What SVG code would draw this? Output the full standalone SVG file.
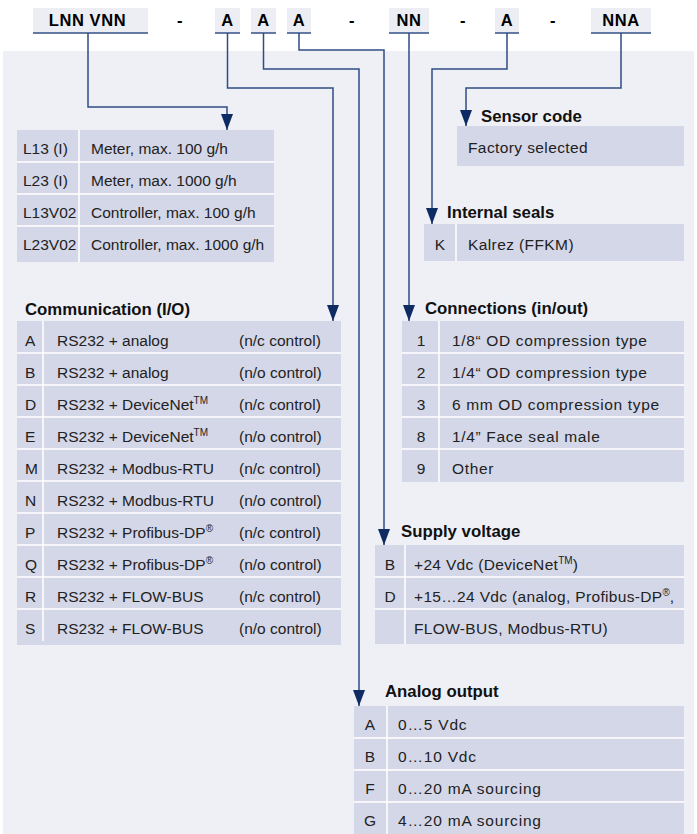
<svg xmlns="http://www.w3.org/2000/svg" width="697" height="834" viewBox="0 0 697 834">
<style>
.bg{fill:#eff0f6}
.hdr{fill:#eceef4}
.ul{stroke:#33508a;stroke-width:1.5;fill:none}
.lbl{font-family:"Liberation Sans",Arial,sans-serif;font-weight:bold;font-size:16.5px;letter-spacing:0.6px;fill:#000}
.h{font-family:"Liberation Sans",Arial,sans-serif;font-weight:bold;font-size:16.8px;fill:#111}
.t{font-family:"Liberation Sans",Arial,sans-serif;font-size:15.5px;fill:#222}
.tc{font-family:"Liberation Sans",Arial,sans-serif;font-size:15.5px;fill:#222;text-anchor:middle}
.w4{letter-spacing:0.4px}
.w3{letter-spacing:0.33px}
.w6{letter-spacing:0.65px}
.w8{letter-spacing:0.8px}
.tbl{fill:#d4d7e8}
.sep{stroke:#ffffff;stroke-width:1.5;fill:none}
.con{stroke:#2f4c85;stroke-width:1.5;fill:none;marker-end:url(#arr)}
.sup{font-size:10px;letter-spacing:0}
</style>
<defs>
<marker id="arr" markerUnits="userSpaceOnUse" markerWidth="16" markerHeight="12" viewBox="0 0 16 12" refX="16" refY="6" orient="auto">
<path d="M0,0 L16,6 L0,12 z" fill="#0f2b63"/>
</marker>
</defs>
<rect class="bg" x="3" y="51" width="691" height="783"/>

<g id="header">
<rect class="hdr" x="33" y="8" width="115" height="25"/><path class="ul" d="M33,33H148"/><text class="lbl" x="87.5" y="26" text-anchor="middle">LNN VNN</text>
<text class="lbl" x="180" y="26" text-anchor="middle">-</text>
<rect class="hdr" x="215" y="8" width="25" height="25"/><path class="ul" d="M215,33H240"/><text class="lbl" x="227.5" y="26" text-anchor="middle">A</text>
<rect class="hdr" x="251" y="8" width="25" height="25"/><path class="ul" d="M251,33H276"/><text class="lbl" x="263.5" y="26" text-anchor="middle">A</text>
<rect class="hdr" x="287" y="8" width="24" height="25"/><path class="ul" d="M287,33H311"/><text class="lbl" x="299" y="26" text-anchor="middle">A</text>
<text class="lbl" x="352" y="26" text-anchor="middle">-</text>
<rect class="hdr" x="389" y="8" width="40" height="25"/><path class="ul" d="M389,33H429"/><text class="lbl" x="409" y="26" text-anchor="middle">NN</text>
<text class="lbl" x="463" y="26" text-anchor="middle">-</text>
<rect class="hdr" x="495" y="8" width="24" height="25"/><path class="ul" d="M495,33H519"/><text class="lbl" x="507" y="26" text-anchor="middle">A</text>
<text class="lbl" x="553" y="26" text-anchor="middle">-</text>
<rect class="hdr" x="591" y="8" width="60" height="25"/><path class="ul" d="M591,33H651"/><text class="lbl" x="621" y="26" text-anchor="middle">NNA</text>
</g>

<g id="connectors">
<path class="con" d="M88,33V107H227V130"/>
<path class="con" d="M227.5,33V88H333V321"/>
<path class="con" d="M263.5,33V69H359V706"/>
<path class="con" d="M299,33V50H384V545"/>
<path class="con" d="M409,33V321"/>
<path class="con" d="M507,33V69H432V224"/>
<path class="con" d="M621,33V88H466V126"/>
</g>

<g id="model">
<rect class="tbl" x="17" y="130" width="257" height="132"/>
<path class="sep" d="M17,162H274M17,194H274M17,226H274M79,130V262"/>
<text class="t" x="23" y="154">L13 (I)</text><text class="t" x="91" y="154">Meter, max. 100 g/h</text>
<text class="t" x="23" y="186">L23 (I)</text><text class="t" x="91" y="186">Meter, max. 1000 g/h</text>
<text class="t" x="23" y="218">L13V02</text><text class="t" x="91" y="218">Controller, max. 100 g/h</text>
<text class="t" x="23" y="250">L23V02</text><text class="t" x="91" y="250">Controller, max. 1000 g/h</text>
</g>

<g id="sensor-code">
<text class="h" x="481" y="122">Sensor code</text>
<rect class="tbl" x="457" y="126" width="227" height="40"/>
<text class="t w4" x="468" y="153">Factory selected</text>
</g>

<g id="internal-seals">
<text class="h" x="447" y="218">Internal seals</text>
<rect class="tbl" x="424" y="224" width="260" height="37"/>
<path class="sep" d="M456,224V261"/>
<text class="tc" x="440" y="250">K</text><text class="t w4" x="468" y="250">Kalrez (FFKM)</text>
</g>

<g id="communication">
<text class="h" x="25" y="315">Communication (I/O)</text>
<rect class="tbl" x="17" y="321" width="324" height="324"/>
<path class="sep" d="M17,353H341M17,385H341M17,417H341M17,449H341M17,481H341M17,513H341M17,545H341M17,577H341M17,609H341M43,321V641"/>
<text class="t" x="25" y="346">A</text><text class="t" x="57" y="346">RS232 + analog</text><text class="t" x="239" y="346">(n/c control)</text>
<text class="t" x="25" y="378">B</text><text class="t" x="57" y="378">RS232 + analog</text><text class="t" x="239" y="378">(n/o control)</text>
<text class="t" x="25" y="410">D</text><text class="t" x="57" y="410">RS232 + DeviceNet<tspan class="sup" dy="-6">TM</tspan></text><text class="t" x="239" y="410">(n/c control)</text>
<text class="t" x="25" y="442">E</text><text class="t" x="57" y="442">RS232 + DeviceNet<tspan class="sup" dy="-6">TM</tspan></text><text class="t" x="239" y="442">(n/o control)</text>
<text class="t" x="25" y="474">M</text><text class="t" x="57" y="474">RS232 + Modbus-RTU</text><text class="t" x="239" y="474">(n/c control)</text>
<text class="t" x="25" y="506">N</text><text class="t" x="57" y="506">RS232 + Modbus-RTU</text><text class="t" x="239" y="506">(n/o control)</text>
<text class="t" x="25" y="538">P</text><text class="t" x="57" y="538">RS232 + Profibus-DP<tspan class="sup" dy="-6">®</tspan></text><text class="t" x="239" y="538">(n/c control)</text>
<text class="t" x="25" y="570">Q</text><text class="t" x="57" y="570">RS232 + Profibus-DP<tspan class="sup" dy="-6">®</tspan></text><text class="t" x="239" y="570">(n/o control)</text>
<text class="t" x="25" y="602">R</text><text class="t" x="57" y="602">RS232 + FLOW-BUS</text><text class="t" x="239" y="602">(n/c control)</text>
<text class="t" x="25" y="634">S</text><text class="t" x="57" y="634">RS232 + FLOW-BUS</text><text class="t" x="239" y="634">(n/o control)</text>
</g>

<g id="connections">
<text class="h" x="425" y="314">Connections (in/out)</text>
<rect class="tbl" x="402" y="321" width="282" height="161"/>
<path class="sep" d="M402,353H684M402,385H684M402,417H684M402,449H684M439,321V482"/>
<text class="tc" x="421" y="346">1</text><text class="t w6" x="452" y="346">1/8“ OD compression type</text>
<text class="tc" x="421" y="378">2</text><text class="t w6" x="452" y="378">1/4“ OD compression type</text>
<text class="tc" x="421" y="410">3</text><text class="t w6" x="452" y="410">6 mm OD compression type</text>
<text class="tc" x="421" y="442">8</text><text class="t w6" x="452" y="442">1/4” Face seal male</text>
<text class="tc" x="421" y="474">9</text><text class="t w6" x="452" y="474">Other</text>
</g>

<g id="supply-voltage">
<text class="h" x="401" y="537">Supply voltage</text>
<rect class="tbl" x="375" y="545" width="309" height="99"/>
<path class="sep" d="M375,577H684M375,609H684M405,545V644"/>
<text class="tc" x="390" y="570">B</text><text class="t w3" x="414" y="570">+24 Vdc (DeviceNet<tspan class="sup" dy="-6">TM</tspan><tspan dy="6">)</tspan></text>
<text class="tc" x="390" y="602">D</text><text class="t w3" x="414" y="602">+15…24 Vdc (analog, Profibus-DP<tspan class="sup" dy="-6">®</tspan><tspan dy="6">,</tspan></text>
<text class="t w3" x="414" y="634">FLOW-BUS, Modbus-RTU)</text>
</g>

<g id="analog-output">
<text class="h" x="385" y="697">Analog output</text>
<rect class="tbl" x="354" y="706" width="330" height="128"/>
<path class="sep" d="M354,738H684M354,770H684M354,802H684M387,706V834"/>
<text class="tc" x="370" y="730">A</text><text class="t w8" x="398" y="730">0…5 Vdc</text>
<text class="tc" x="370" y="762">B</text><text class="t w8" x="398" y="762">0…10 Vdc</text>
<text class="tc" x="370" y="794">F</text><text class="t w8" x="398" y="794">0…20 mA sourcing</text>
<text class="tc" x="370" y="826">G</text><text class="t w8" x="398" y="826">4…20 mA sourcing</text>
</g>
</svg>
